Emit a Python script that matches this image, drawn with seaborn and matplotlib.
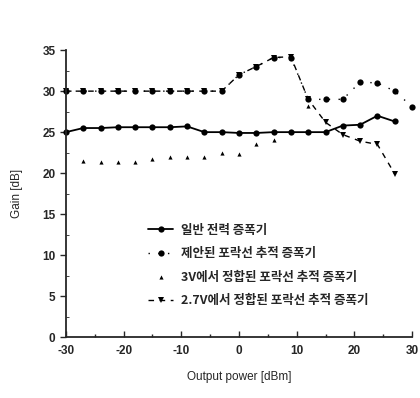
import matplotlib
matplotlib.use("Agg")
import matplotlib.pyplot as plt
from matplotlib.ticker import MultipleLocator
import seaborn as sns
import pandas as pd

# output power points [dBm]
x_pts = [-30, -27, -24, -21, -18, -15, -12, -9, -6, -3, 0, 3, 6, 9, 12, 15, 18, 21, 24, 27]

gain_normal = [25.0, 25.5, 25.5, 25.6, 25.6, 25.6, 25.6, 25.7, 25.0, 25.0,
               24.9, 24.9, 25.0, 25.0, 25.0, 25.0, 25.8, 25.9, 27.0, 26.3]

x_prop = [-30, -27, -24, -21, -18, -15, -12, -9, -6, -3, 0, 3, 6, 9, 12, 15, 18, 21, 24, 27, 30]
gain_prop = [30.0, 30.0, 30.0, 30.0, 30.0, 30.0, 30.0, 30.0, 30.0, 30.0,
             32.0, 33.0, 34.1, 34.1, 29.0, 29.0, 29.0, 31.1, 31.0, 30.0, 28.1]

x_3v = [-27, -24, -21, -18, -15, -12, -9, -6, -3, 0, 3, 6, 12]
gain_3v = [21.5, 21.4, 21.4, 21.4, 21.7, 22.0, 22.0, 22.0, 22.4, 22.3, 23.5, 24.1, 28.2]

gain_27v = [30.0, 30.0, 30.0, 30.0, 30.0, 30.0, 30.0, 30.0, 30.0, 30.0,
            32.0, 33.0, 34.1, 34.2, 29.0, 26.2, 24.7, 23.9, 23.5, 19.9]

labels = ["일반 전력 증폭기",
          "제안된 포락선 추적 증폭기",
          "3V에서 정합된 포락선 추적 증폭기",
          "2.7V에서 정합된 포락선 추적 증폭기"]

sns.set_style("ticks")
plt.rcParams['font.family'] = ['Liberation Sans', 'Noto Sans CJK KR', 'DejaVu Sans']
plt.rcParams['axes.unicode_minus'] = False

fig = plt.figure(figsize=(4.2, 3.98), dpi=100)
ax = fig.add_axes([0.157, 0.153, 0.824, 0.721])

df_n = pd.DataFrame({"x": x_pts, "y": gain_normal})
df_p = pd.DataFrame({"x": x_prop, "y": gain_prop})
df_3 = pd.DataFrame({"x": x_3v, "y": gain_3v})
df_27 = pd.DataFrame({"x": x_pts, "y": gain_27v})

sns.lineplot(data=df_n, x="x", y="y", ax=ax, color="black", lw=1.3,
             marker="o", markersize=4.5, markeredgewidth=0, label=labels[0], clip_on=False)
sns.lineplot(data=df_p, x="x", y="y", ax=ax, color="black", lw=1.0,
             linestyle=(0, (1, 6)), marker="o", markersize=4.5, markeredgewidth=0,
             label=labels[1], clip_on=False)
sns.scatterplot(data=df_3, x="x", y="y", ax=ax, color="black", marker="^", s=9,
                linewidth=0, label=labels[2], clip_on=False)
sns.lineplot(data=df_27, x="x", y="y", ax=ax, color="black", lw=1.0,
             linestyle=(0, (4, 4)), marker="v", markersize=4.5, markeredgewidth=0,
             label=labels[3], clip_on=False)

ax.set_xlim(-30, 30)
ax.set_ylim(0, 35)
ax.xaxis.set_major_locator(MultipleLocator(10))
ax.xaxis.set_minor_locator(MultipleLocator(5))
ax.yaxis.set_major_locator(MultipleLocator(5))
ax.yaxis.set_minor_locator(MultipleLocator(2.5))
ax.tick_params(axis="x", which="both", direction="in", length=4, width=1, labelsize=8.5, pad=6)
ax.tick_params(axis="x", which="minor", length=2)
ax.tick_params(axis="y", which="major", direction="out", length=4, width=1, labelsize=8.5)
ax.tick_params(axis="y", which="minor", direction="in", length=2)
for lab in ax.get_xticklabels() + ax.get_yticklabels():
    lab.set_fontweight("bold")
for sp in ["left", "bottom"]:
    ax.spines[sp].set_linewidth(1.3)
sns.despine(ax=ax)

ax.set_xlabel("Output power [dBm]", fontsize=8.5, labelpad=10)
ax.set_ylabel("Gain [dB]", fontsize=8.5, labelpad=14)

leg = ax.legend(loc="upper left", bbox_to_anchor=(0.205, 0.435), frameon=False,
                handlelength=2.0, handletextpad=0.6, labelspacing=0.85,
                prop={"family": ["Noto Sans CJK KR", "DejaVu Sans"], "size": 9, "weight": "bold"})

fig.savefig("out.png", dpi=100)
